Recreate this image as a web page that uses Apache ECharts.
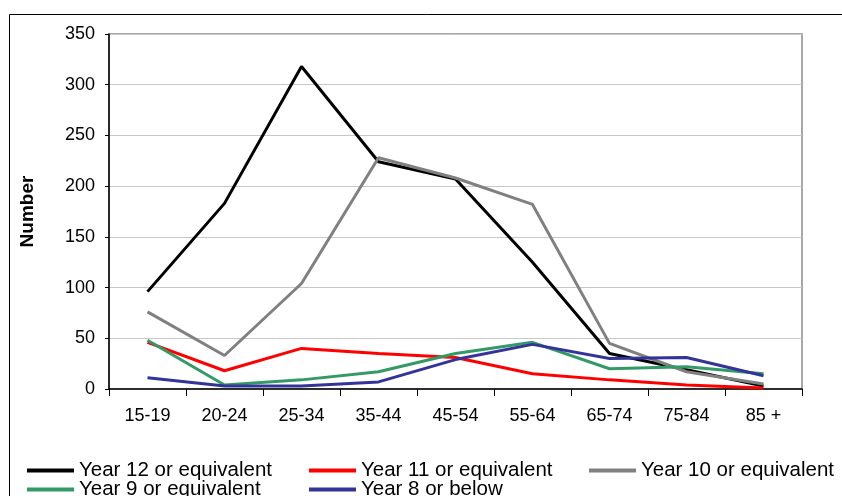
<!DOCTYPE html>
<html>
<head>
<meta charset="utf-8">
<script src="https://cdn.jsdelivr.net/npm/echarts@6/dist/echarts.min.js"></script>
<style>
html,body{margin:0;padding:0;background:#fff;}
#chart{width:842px;height:496px;}
</style>
</head>
<body>
<div id="chart"></div>
<script>
const categories = ['15-19','20-24','25-34','35-44','45-54','55-64','65-74','75-84','85 +'];
const year12 = [96, 183, 318, 224, 207, 125, 35, 19, 3];
const year11 = [46, 18, 40, 35, 31, 15, 9, 4, 1];
const year10 = [76, 33, 104, 228, 208, 182, 45, 17, 5];
const year9  = [48, 4, 9, 17, 35, 46, 20, 22, 15];
const year8  = [11, 3, 3, 7, 29, 44, 30, 31, 13];
const seriesNames = ['Year 12 or equivalent','Year 11 or equivalent','Year 10 or equivalent','Year 9 or equivalent','Year 8 or below'];
const seriesData = [year12, year11, year10, year9, year8];
const colors = ['#000000','#ff0000','#808080','#339966','#333399'];
const yTicks = [0, 50, 100, 150, 200, 250, 300, 350];

const FONT = '"Liberation Sans", Arial, sans-serif';
const chart = echarts.init(document.getElementById('chart'), null, {renderer:'canvas'});

const legendPos = [
  {left: 27, top: 460}, {left: 309, top: 460}, {left: 589, top: 460},
  {left: 27, top: 479}, {left: 309, top: 479}
];

const option = {
  backgroundColor: '#fff',
  animation: false,
  color: colors,
  graphic: [{
    type: 'rect', left: 7, top: 12, silent: true,
    shape: {x: 0, y: 0, width: 900, height: 600},
    style: {fill: 'none', stroke: '#000', lineWidth: 1}
  }],
  grid: {left: 109, right: 40, top: 34, bottom: 107, show: true, borderColor: '#8c8c8c', borderWidth: 1.5, backgroundColor: 'transparent'},
  legend: seriesNames.map((n, i) => ({
    data: [n], left: legendPos[i].left, top: legendPos[i].top, padding: 0,
    icon: 'rect', itemWidth: 47, itemHeight: 4,
    textStyle: {fontFamily: FONT, fontSize: 20.5, color: '#000', lineHeight: 20},
    selectedMode: false
  })),
  xAxis: {
    type: 'category', data: categories, boundaryGap: true,
    axisLine: {lineStyle: {color: '#000', width: 1.5}},
    axisTick: {show: true, length: 7, lineStyle: {color: '#000'}, alignWithLabel: false},
    axisLabel: {fontFamily: FONT, fontSize: 18, color: '#000', margin: 18},
    splitLine: {show: false}
  },
  yAxis: {
    type: 'value', min: yTicks[0], max: yTicks[yTicks.length - 1], interval: 50,
    name: 'Number', nameLocation: 'middle', nameGap: 72, nameRotate: 90,
    nameTextStyle: {fontFamily: FONT, fontSize: 19, fontWeight: 'bold', color: '#000'},
    axisLine: {show: true, lineStyle: {color: '#000', width: 1.5}},
    axisTick: {show: true, length: 4, inside: false, lineStyle: {color: '#000'}},
    axisLabel: {fontFamily: FONT, fontSize: 18, color: '#000', margin: 14},
    splitLine: {show: true, lineStyle: {color: '#c8c8c8', width: 1}}
  },
  series: seriesNames.map((n, i) => ({
    name: n, type: 'line', data: seriesData[i],
    showSymbol: false, symbol: 'none',
    lineStyle: {width: 3, color: colors[i]},
    itemStyle: {color: colors[i]},
    z: 2 + i
  }))
};
chart.setOption(option);
</script>
</body>
</html>
